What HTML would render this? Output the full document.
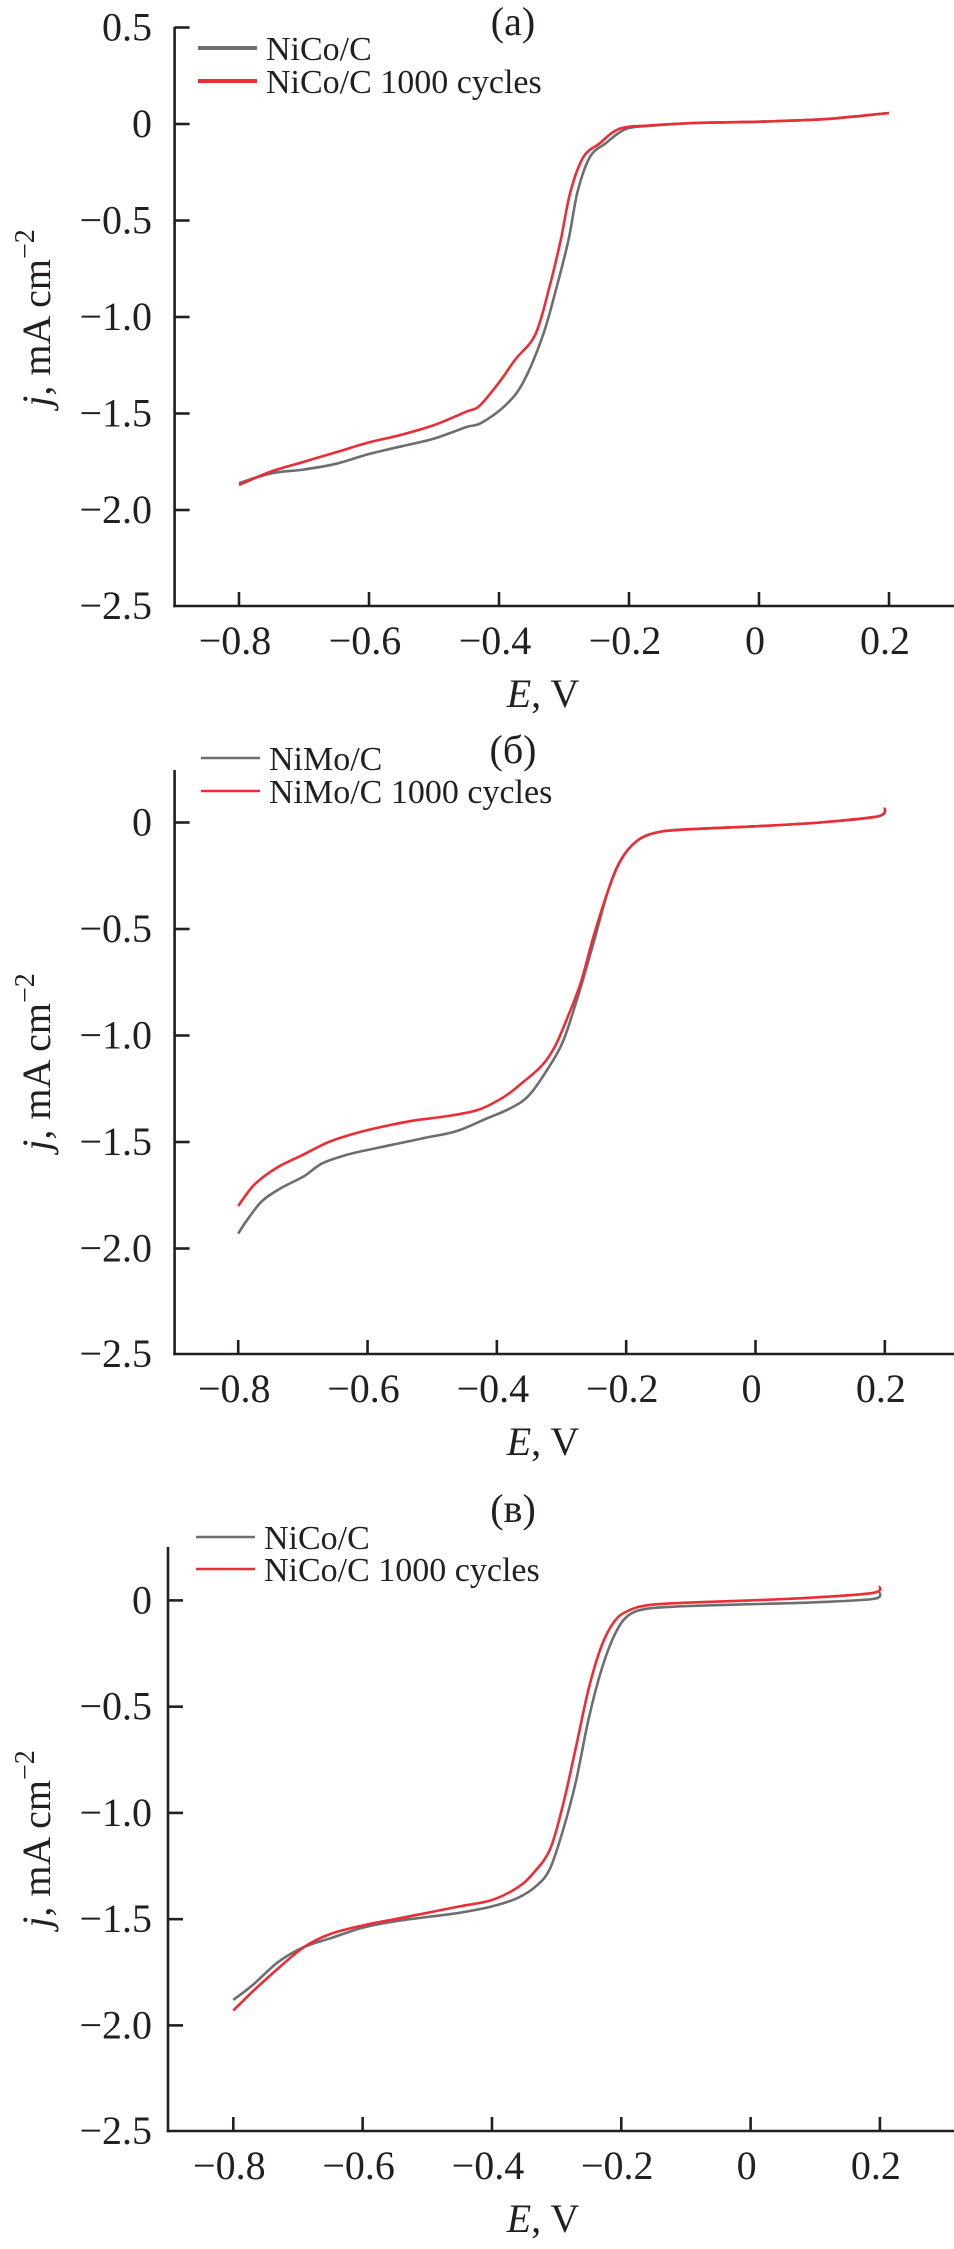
<!DOCTYPE html>
<html><head><meta charset="utf-8">
<style>
html,body{margin:0;padding:0;background:#fff;}
svg{display:block;}
svg text{font-family:"Liberation Serif","Times New Roman","DejaVu Serif",serif;fill:#231f20;}
</style></head>
<body>
<svg id="fig" width="954" height="2249" viewBox="0 0 954 2249" xmlns="http://www.w3.org/2000/svg" font-family="Liberation Serif, serif"></svg>
<script>
// ---------- data ----------
const yTicks = [0.5, 0, -0.5, -1.0, -1.5, -2.0, -2.5];
const yTickLabels = ["0.5", "0", "\u22120.5", "\u22121.0", "\u22121.5", "\u22122.0", "\u22122.5"];
const xTicks = [-0.8, -0.6, -0.4, -0.2, 0, 0.2];
const xTickLabels = ["\u22120.8", "\u22120.6", "\u22120.4", "\u22120.2", "0", "0.2"];

// Panel (a)
const aGrayE = [-0.8,-0.75,-0.7,-0.65,-0.6,-0.55,-0.5,-0.45,-0.428,-0.391,-0.363,-0.332,-0.311,-0.293,-0.279,-0.26,-0.236,-0.204,-0.16,-0.1,0,0.1,0.2];
const aGrayJ = [-1.86,-1.81,-1.79,-1.76,-1.71,-1.67,-1.63,-1.57,-1.55,-1.46,-1.34,-1.09,-0.84,-0.60,-0.35,-0.17,-0.10,-0.025,-0.008,0.005,0.012,0.025,0.057];
const aRedE = [-0.8,-0.75,-0.7,-0.65,-0.6,-0.55,-0.5,-0.45,-0.43,-0.40,-0.375,-0.344,-0.322,-0.305,-0.29,-0.27,-0.245,-0.215,-0.17,-0.1,0,0.1,0.2];
const aRedJ = [-1.87,-1.80,-1.75,-1.70,-1.65,-1.61,-1.56,-1.49,-1.46,-1.34,-1.22,-1.09,-0.84,-0.60,-0.35,-0.17,-0.10,-0.025,-0.008,0.005,0.012,0.025,0.057];

// Panel (b)
const bGrayE = [-0.8,-0.787,-0.764,-0.736,-0.698,-0.670,-0.632,-0.604,-0.557,-0.510,-0.463,-0.416,-0.378,-0.350,-0.322,-0.298,-0.275,-0.251,-0.228,-0.209,-0.185,-0.157,-0.115,0,0.1,0.177,0.198,0.2];
const bGrayJ = [-1.93,-1.87,-1.78,-1.72,-1.66,-1.60,-1.56,-1.54,-1.51,-1.48,-1.45,-1.39,-1.34,-1.28,-1.16,-1.03,-0.82,-0.57,-0.32,-0.18,-0.09,-0.05,-0.034,-0.018,0,0.023,0.04,0.07];
const bRedE = [-0.8,-0.775,-0.74,-0.70,-0.66,-0.62,-0.58,-0.53,-0.48,-0.43,-0.39,-0.36,-0.33,-0.31,-0.29,-0.27,-0.25,-0.228,-0.209,-0.185,-0.157,-0.115,0,0.1,0.177,0.198,0.2];
const bRedJ = [-1.80,-1.70,-1.62,-1.56,-1.50,-1.46,-1.43,-1.40,-1.38,-1.35,-1.29,-1.22,-1.14,-1.05,-0.91,-0.75,-0.53,-0.32,-0.18,-0.09,-0.05,-0.034,-0.018,0,0.023,0.04,0.07];

// Panel (c)
const cGrayE = [-0.8,-0.77,-0.73,-0.69,-0.65,-0.60,-0.55,-0.50,-0.45,-0.40,-0.36,-0.33,-0.31,-0.29,-0.27,-0.25,-0.23,-0.21,-0.19,-0.16,-0.1,0,0.1,0.19,0.2];
const cGrayJ = [-1.88,-1.81,-1.70,-1.63,-1.59,-1.54,-1.51,-1.49,-1.47,-1.44,-1.40,-1.34,-1.26,-1.08,-0.85,-0.55,-0.32,-0.16,-0.073,-0.039,-0.027,-0.018,-0.009,0.007,0.04];
const cRedE = [-0.8,-0.77,-0.73,-0.69,-0.65,-0.60,-0.55,-0.50,-0.45,-0.40,-0.36,-0.335,-0.31,-0.29,-0.27,-0.25,-0.23,-0.21,-0.19,-0.16,-0.1,0,0.1,0.19,0.2];
const cRedJ = [-1.93,-1.84,-1.73,-1.63,-1.57,-1.53,-1.50,-1.47,-1.44,-1.41,-1.35,-1.28,-1.17,-0.96,-0.69,-0.41,-0.21,-0.096,-0.05,-0.023,-0.011,0,0.014,0.036,0.068];

// ---------- drawing ----------
const NS = "http://www.w3.org/2000/svg";
const FONT = "Liberation Serif, Times New Roman, DejaVu Serif, serif";
const svg = document.getElementById("fig");
function mk(tag, attrs, parent){
  const e = document.createElementNS(NS, tag);
  for (const k in attrs) e.setAttribute(k, attrs[k]);
  if (tag === "text") e.setAttribute("font-family", FONT);
  (parent||svg).appendChild(e);
  return e;
}
const GRAY = "#6d6e71", RED = "#ec2d35", INK = "#231f20";

function smoothPath(pts){
  let d = "M" + pts[0][0].toFixed(1) + "," + pts[0][1].toFixed(1);
  for (let i = 0; i < pts.length - 1; i++){
    const p0 = pts[Math.max(0, i-1)], p1 = pts[i], p2 = pts[i+1], p3 = pts[Math.min(pts.length-1, i+2)];
    const c1x = p1[0] + (p2[0]-p0[0])/6, c1y = p1[1] + (p2[1]-p0[1])/6;
    const c2x = p2[0] - (p3[0]-p1[0])/6, c2y = p2[1] - (p3[1]-p1[1])/6;
    d += " C" + c1x.toFixed(1) + "," + c1y.toFixed(1) + " " + c2x.toFixed(1) + "," + c2y.toFixed(1) + " " + p2[0].toFixed(1) + "," + p2[1].toFixed(1);
  }
  return d;
}

function panel(p){
  const g = mk("g", {});
  
  
  const xS = e => p.x0 + e * p.xs;
  const yS = j => p.y0 - j * p.ys;
  const ya = mk("line", {x1:p.ax, y1:p.top, x2:p.ax, y2:p.bottom+1.2, stroke:INK, "stroke-width":2.6}, g);
  
  
  const xa = mk("line", {x1:p.ax-1.3, y1:p.bottom, x2:954, y2:p.bottom, stroke:INK, "stroke-width":2.6}, g);
  
  
  yTicks.forEach((v,i)=>{
    const y = (v === -2.5) ? p.bottom : yS(v);
    if (v === 0.5 && !p.hasHalf) return;
    if (v !== -2.5) {
      const t = mk("line", {x1:p.ax, y1:y, x2:p.ax+15, y2:y, stroke:INK, "stroke-width":2.6}, g);
      
      
    }
    const tx = mk("text", {x:152, y:y+13, "font-size":40, "text-anchor":"end"}, g);
    tx.textContent = yTickLabels[i];
    
    
  });
  xTicks.forEach((v,i)=>{
    const x = xS(v);
    const t = mk("line", {x1:x, y1:p.bottom, x2:x, y2:p.bottom-14, stroke:INK, "stroke-width":2.6}, g);
    
    
    const tx = mk("text", {x:x-4, y:p.bottom+48, "font-size":40, "text-anchor":"middle"}, g);
    tx.textContent = xTickLabels[i];
    
    
  });
  const xt = mk("text", {x:543, y:p.bottom+101, "font-size":40, "text-anchor":"middle"}, g);
  xt.innerHTML = '<tspan font-style="italic">E</tspan>, V';
  
  
  const yt = mk("text", {x:0, y:0, "font-size":40, "text-anchor":"middle", transform:`translate(50,${p.ylc}) rotate(-90)`}, g);
  yt.innerHTML = '<tspan font-style="italic">j</tspan>, mA cm<tspan font-size="28" dy="-16">\u22122</tspan>';
  
  
  const pl = mk("text", {x:513, y:p.labY+13, "font-size":40, "text-anchor":"middle"}, g);
  pl.textContent = p.label;
  
  
  function series(E, J, color, nm){
    const pts = E.map((e,i)=>[xS(e), yS(J[i])]);
    const path = mk("path", {d:smoothPath(pts), fill:"none", stroke:color, "stroke-width":2.6, "stroke-linejoin":"round"}, g);
    
    
  }
  series(p.gE, p.gJ, GRAY, "series-initial");
  series(p.rE, p.rJ, RED, "series-1000-cycles");
  const lg = mk("g", {}, g);
  
  
  [[p.l1, GRAY, p.leg1, p.legW1],[p.l2, RED, p.leg2, p.legW1]].forEach(([ly,c,txt,w])=>{
    const ln = mk("line", {x1:p.lx, y1:ly, x2:p.lx+59, y2:ly, stroke:c, "stroke-width":w}, lg);
    
    
    const t = mk("text", {x:p.lx+68, y:ly+12, "font-size":34}, lg);
    t.textContent = txt;
    
    
  });
}

panel({name:"panel-a", label:"(a)", labY:22, ax:174.6, x0:759, xs:650, y0:124, ys:193, top:27, bottom:606, hasHalf:true,
  ylc:318, lx:198, l1:48, l2:81, legW1:4, leg1:"NiCo/C", leg2:"NiCo/C 1000 cycles",
  gE:aGrayE, gJ:aGrayJ, rE:aRedE, rJ:aRedJ});
panel({name:"panel-b", label:"(\u0431)", labY:750, ax:174.6, x0:755.5, xs:646.6, y0:822.5, ys:213, top:770, bottom:1354, hasHalf:false,
  ylc:1062, lx:201, l1:758, l2:791, legW1:2.6, leg1:"NiMo/C", leg2:"NiMo/C 1000 cycles",
  gE:bGrayE, gJ:bGrayJ, rE:bRedE, rJ:bRedJ});
panel({name:"panel-c", label:"(\u0432)", labY:1509, ax:168, x0:750.6, xs:646.6, y0:1600.4, ys:212.5, top:1547, bottom:2131, hasHalf:false,
  ylc:1839, lx:196, l1:1537, l2:1569, legW1:2.6, leg1:"NiCo/C", leg2:"NiCo/C 1000 cycles",
  gE:cGrayE, gJ:cGrayJ, rE:cRedE, rJ:cRedJ});
</script>
</body></html>
